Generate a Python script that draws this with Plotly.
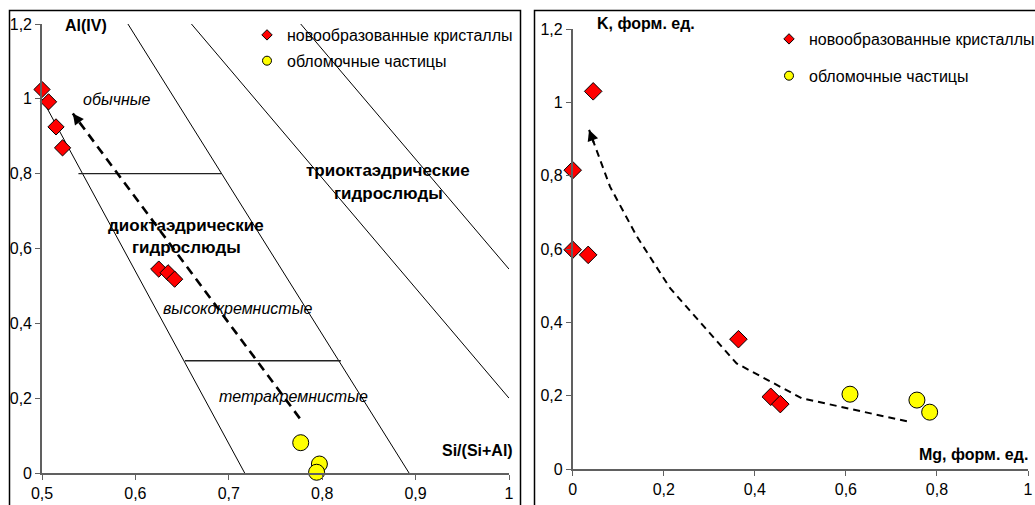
import plotly.graph_objects as go

W, H = 1035, 505

# ---------------- data: left panel (Si/(Si+Al) vs Al(IV)) ----------------
nk_si = [0.500, 0.507, 0.515, 0.522, 0.625, 0.635, 0.642]
nk_al = [1.025, 0.992, 0.925, 0.869, 0.545, 0.535, 0.518]
ob_si = [0.777, 0.797, 0.794]
ob_al = [0.081, 0.024, 0.002]

# field boundary lines (x pairs, y pairs)
bound_x = [[0.500, 0.717], [0.592, 0.893], [0.660, 1.000], [0.777, 1.000]]
bound_y = [[1.000, 0.000], [1.200, 0.000], [1.200, 0.200], [1.200, 0.545]]
hline_x = [[0.539, 0.692], [0.653, 0.820]]
hline_y = [[0.800, 0.800], [0.300, 0.300]]

trendL_x = [0.776, 0.533]
trendL_y = [0.146, 0.961]

# ---------------- data: right panel (Mg vs K) ----------------
nk_mg = [0.045, 0.000, 0.000, 0.034, 0.364, 0.435, 0.456]
nk_k = [1.030, 0.815, 0.598, 0.584, 0.354, 0.197, 0.177]
ob_mg = [0.609, 0.756, 0.784]
ob_k = [0.204, 0.188, 0.155]

trendR_x = [0.734, 0.503, 0.360, 0.214, 0.141, 0.082, 0.036]
trendR_y = [0.130, 0.193, 0.288, 0.493, 0.634, 0.770, 0.925]

ticks_y = [0, 0.2, 0.4, 0.6, 0.8, 1.0, 1.2]
ticks_xL = [0.5, 0.6, 0.7, 0.8, 0.9, 1.0]
ticks_xR = [0, 0.2, 0.4, 0.6, 0.8, 1.0]

name_nk = "новообразованные кристаллы"
name_ob = "обломочные частицы"

FONT = "Liberation Sans, Arial, sans-serif"
AX_COL = "#606060"


def px(x):
    return x / W


def py(y):
    return (H - y) / H


fig = go.Figure()

# boundary lines
for bx, by in zip(bound_x, bound_y):
    fig.add_trace(go.Scatter(x=bx, y=by, mode="lines", line=dict(color="black", width=1),
                             showlegend=False, hoverinfo="skip", xaxis="x", yaxis="y"))
for hx, hy in zip(hline_x, hline_y):
    fig.add_trace(go.Scatter(x=hx, y=hy, mode="lines", line=dict(color="#222", width=1.3),
                             showlegend=False, hoverinfo="skip", xaxis="x", yaxis="y"))

# trends
fig.add_trace(go.Scatter(x=trendL_x, y=trendL_y, mode="lines",
                         line=dict(color="black", width=2.6, dash="9px,6px"),
                         showlegend=False, hoverinfo="skip", xaxis="x", yaxis="y"))
fig.add_trace(go.Scatter(x=trendR_x, y=trendR_y, mode="lines",
                         line=dict(color="black", width=2, dash="7px,5px"),
                         showlegend=False, hoverinfo="skip", xaxis="x2", yaxis="y2"))

# data points left
fig.add_trace(go.Scatter(x=nk_si, y=nk_al, mode="markers", name=name_nk,
                         marker=dict(symbol="diamond", size=12.5, color="#FF0000",
                                     line=dict(color="black", width=1)),
                         showlegend=False, cliponaxis=False, xaxis="x", yaxis="y"))
fig.add_trace(go.Scatter(x=ob_si, y=ob_al, mode="markers", name=name_ob,
                         marker=dict(symbol="circle", size=16, color="#FFFF00",
                                     line=dict(color="black", width=1)),
                         showlegend=False, cliponaxis=False, xaxis="x", yaxis="y"))
# data points right
fig.add_trace(go.Scatter(x=nk_mg, y=nk_k, mode="markers", name=name_nk,
                         marker=dict(symbol="diamond", size=13.5, color="#FF0000",
                                     line=dict(color="black", width=1)),
                         showlegend=False, cliponaxis=False, xaxis="x2", yaxis="y2"))
fig.add_trace(go.Scatter(x=ob_mg, y=ob_k, mode="markers", name=name_ob,
                         marker=dict(symbol="circle", size=16, color="#FFFF00",
                                     line=dict(color="black", width=1)),
                         showlegend=False, cliponaxis=False, xaxis="x2", yaxis="y2"))

# legend entries (small symbols like the original)
for lg, xa, ya in [("legend", "x", "y"), ("legend2", "x2", "y2")]:
    fig.add_trace(go.Scatter(x=[None], y=[None], mode="markers", name=name_nk,
                             marker=dict(symbol="diamond", size=8, color="#FF0000",
                                         line=dict(color="black", width=1)),
                             legend=lg, legendgroup=lg + "a", xaxis=xa, yaxis=ya))
    fig.add_trace(go.Scatter(x=[None], y=[None], mode="markers", name=name_ob,
                             marker=dict(symbol="circle", size=9, color="#FFFF00",
                                         line=dict(color="black", width=1)),
                             legend=lg, legendgroup=lg + "b", xaxis=xa, yaxis=ya))

# arrow heads
def head(xs, ys, xref, yref, frac):
    tx, ty = xs[-1], ys[-1]
    bx = tx + frac * (xs[-2] - tx)
    byy = ty + frac * (ys[-2] - ty)
    return dict(x=tx, y=ty, ax=bx, ay=byy, xref=xref, yref=yref, axref=xref, ayref=yref,
                text="", showarrow=True, arrowhead=2, arrowsize=1.1, arrowwidth=2,
                arrowcolor="black", standoff=0)


annotations = [
    head(trendL_x, trendL_y, "x", "y", 0.03),
    head(trendR_x, trendR_y, "x2", "y2", 0.25),
]


def txt(s, x, y, xanchor="center", bold=False, italic=False, size=16):
    t = s
    if bold:
        t = "<b>" + t + "</b>"
    if italic:
        t = "<i>" + t + "</i>"
    return dict(text=t, x=px(x), y=py(y), xref="paper", yref="paper", xanchor=xanchor,
                yanchor="middle", showarrow=False, font=dict(family=FONT, size=size, color="black"))


annotations += [
    txt("Al(IV)", 63, 25, "left", bold=True, size=16),
    txt("Si/(Si+Al)", 515, 450, "right", bold=True, size=16),
    txt("обычные", 117, 100, italic=True),
    txt("высококремнистые", 237, 308, italic=True),
    txt("тетракремнистые", 293, 396, italic=True),
    txt("триоктаэдрические", 388, 171, bold=True, size=17),
    txt("гидрослюды", 388, 193, bold=True, size=17),
    txt("диоктаэдрические", 186, 226, bold=True, size=17),
    txt("гидрослюды", 186, 247, bold=True, size=17),
    txt("K, форм. ед.", 595, 23, "left", bold=True, size=16),
    txt("Mg, форм. ед.", 1030, 454, "right", bold=True, size=16),
]

shapes = [
    dict(type="rect", xref="paper", yref="paper", x0=px(9.5), x1=px(520.5), y0=-0.05, y1=py(10.5),
         line=dict(color="black", width=1.5), fillcolor="rgba(0,0,0,0)", layer="below"),
    dict(type="rect", xref="paper", yref="paper", x0=px(534.5), x1=1.05, y0=-0.05, y1=py(10.5),
         line=dict(color="black", width=1.5), fillcolor="rgba(0,0,0,0)", layer="below"),
]

axis_common = dict(showgrid=False, zeroline=False, showline=True, linecolor=AX_COL, linewidth=1.6,
                   ticks="outside", ticklen=5, tickwidth=1.2, tickcolor=AX_COL,
                   tickfont=dict(family=FONT, size=16, color="black"), mirror=False)

leg_common = dict(font=dict(family=FONT, size=16, color="black"), bgcolor="rgba(0,0,0,0)",
                  itemwidth=30, xanchor="left", yanchor="top", traceorder="grouped",
                  itemclick=False, itemdoubleclick=False)

fig.update_layout(
    width=W, height=H,
    margin=dict(l=0, r=0, t=0, b=0, autoexpand=False),
    paper_bgcolor="white", plot_bgcolor="white",
    separators=", ",
    font=dict(family=FONT, size=16, color="black"),
    xaxis=dict(domain=[px(42), px(509)], range=[0.5, 1.0], tickvals=ticks_xL, anchor="y", **axis_common),
    yaxis=dict(domain=[py(473), py(24)], range=[0, 1.2], tickvals=ticks_y, anchor="x", **axis_common),
    xaxis2=dict(domain=[px(572.7), px(1028)], range=[0, 1.0], tickvals=ticks_xR, anchor="y2", **axis_common),
    yaxis2=dict(domain=[py(469), py(29)], range=[0, 1.2], tickvals=ticks_y, anchor="x2", **axis_common),
    legend=dict(x=px(247), y=py(18), tracegroupgap=2, **leg_common),
    legend2=dict(x=px(769), y=py(22), tracegroupgap=13, **leg_common),
    annotations=annotations,
    shapes=shapes,
    hovermode=False,
)

fig.write_html("out.html")
